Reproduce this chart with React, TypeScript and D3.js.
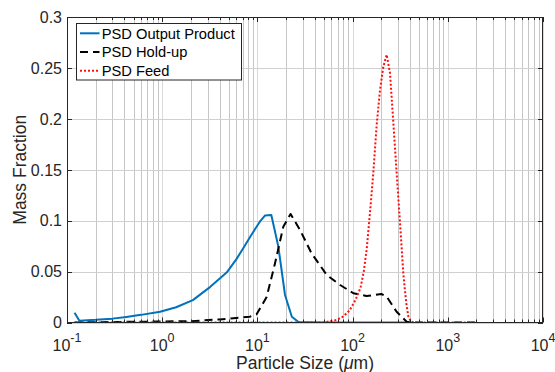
import React from "react";
import * as d3 from "d3";

const outX = [0.12, 0.135, 0.2, 0.3, 0.42, 0.6, 0.95, 1.4, 2.1, 3.2, 4.75, 6, 7.1, 8.5, 10.6, 12, 14, 16.6, 19.5, 23, 27, 50, 100, 200, 420];
const outY = [0.0095, 0.0018, 0.0026, 0.0038, 0.0055, 0.0075, 0.0106, 0.015, 0.022, 0.035, 0.049, 0.062, 0.073, 0.085, 0.099, 0.105, 0.1055, 0.0745, 0.027, 0.0057, 0.0005, 0, 0, 0, 0];

const holdX = [0.12, 0.2, 0.5, 1, 2, 4, 6, 8.3, 9.8, 12.5, 15.3, 18.7, 22.3, 28, 37, 53.5, 74, 102, 140, 200, 228, 290, 370, 400, 1000, 2000];
const holdY = [0, 0.0003, 0.0007, 0.001, 0.0013, 0.003, 0.0045, 0.0057, 0.008, 0.025, 0.058, 0.094, 0.1066, 0.091, 0.068, 0.0467, 0.0368, 0.0287, 0.026, 0.028, 0.0254, 0.0106, 0.0008, 0, 0, 0];

const feedX = [0.12, 1, 10, 50, 68, 80, 93, 107, 121, 131, 141, 152, 165, 179, 194, 210, 228, 247, 268, 290, 315, 341, 365, 385, 410, 440, 1000, 2000];
const feedY = [0, 0, 0, 0, 0.0025, 0.006, 0.012, 0.022, 0.034, 0.05, 0.073, 0.107, 0.147, 0.194, 0.228, 0.251, 0.263, 0.245, 0.196, 0.147, 0.0975, 0.048, 0.02, 0.006, 0.001, 0, 0, 0];

const yTicks = [0, 0.05, 0.1, 0.15, 0.2, 0.25, 0.3];
const xDecades = [-1, 0, 1, 2, 3, 4];
const legendLabels = ["PSD Output Product", "PSD Hold-up", "PSD Feed"];

const W = 555, H = 372;
const L = 67, R = 543, T = 17, B = 322.5;
const FONT = "'Liberation Sans', Arial, Helvetica, sans-serif";
const AX = "#262626";

export default function App() {
  const x = d3.scaleLog().domain([0.1, 1e4]).range([L, R]);
  const y = d3.scaleLinear().domain([0, 0.3]).range([B, T]);
  const line = d3.line<[number, number]>().x(d => x(d[0])).y(d => y(d[1]));

  const minors: number[] = [];
  for (let e = -1; e < 4; e++) for (let k = 2; k <= 9; k++) minors.push(k * Math.pow(10, e));

  const series = [
    { xs: outX, ys: outY, color: "#0072BD", dash: undefined as string | undefined },
    { xs: holdX, ys: holdY, color: "#000000", dash: "8,5" },
    { xs: feedX, ys: feedY, color: "#FF1010", dash: "2,2" },
  ];

  const r = (v: number) => Math.round(v) + 0.5;

  return (
    <svg width={W} height={H} style={{ position: "absolute", left: 0, top: 0, background: "#fff" }} fontFamily={FONT}>
      <rect x={0} y={0} width={W} height={H} fill="#fff" />
      <defs>
        <clipPath id="plot">
          <rect x={L} y={T} width={R - L} height={B - T} />
        </clipPath>
      </defs>
      {/* grid */}
      {minors.map((v, i) => (
        <line key={"mg" + i} x1={r(x(v))} x2={r(x(v))} y1={T} y2={B} stroke="#c6c6c6" strokeWidth={1} />
      ))}
      {xDecades.map(e => (
        <line key={"xg" + e} x1={r(x(Math.pow(10, e)))} x2={r(x(Math.pow(10, e)))} y1={T} y2={B} stroke="#dadada" strokeWidth={1} />
      ))}
      {yTicks.map(v => (
        <line key={"yg" + v} x1={L} x2={R} y1={r(y(v))} y2={r(y(v))} stroke="#d0d0d0" strokeWidth={1} />
      ))}
      {/* series */}
      <g clipPath="url(#plot)">
        {series.map((s, i) => (
          <path key={i} d={line(s.xs.map((v, j) => [v, s.ys[j]] as [number, number])) || ""} fill="none"
            stroke={s.color} strokeWidth={2} strokeDasharray={s.dash} strokeLinejoin="round" />
        ))}
      </g>
      {/* ticks */}
      {yTicks.map(v => (
        <g key={"yt" + v}>
          <line x1={L} x2={L + 5} y1={r(y(v))} y2={r(y(v))} stroke={AX} />
          <line x1={R - 5} x2={R} y1={r(y(v))} y2={r(y(v))} stroke={AX} />
          <text x={62} y={y(v)} dy="0.36em" textAnchor="end" fontSize={16} fill={AX}>{String(+v.toFixed(2))}</text>
        </g>
      ))}
      {minors.map((v, i) => (
        <g key={"mt" + i}>
          <line x1={r(x(v))} x2={r(x(v))} y1={B} y2={B - 3} stroke={AX} />
          <line x1={r(x(v))} x2={r(x(v))} y1={T} y2={T + 3} stroke={AX} />
        </g>
      ))}
      {xDecades.map(e => (
        <g key={"xt" + e}>
          <line x1={r(x(Math.pow(10, e)))} x2={r(x(Math.pow(10, e)))} y1={B} y2={B - 5} stroke={AX} />
          <line x1={r(x(Math.pow(10, e)))} x2={r(x(Math.pow(10, e)))} y1={T} y2={T + 5} stroke={AX} />
          <text x={x(Math.pow(10, e))} y={351} textAnchor="middle" fontSize={16} fill={AX}>
            <tspan>10</tspan>
            <tspan dy={-9.5} fontSize={12.5}>{String(e)}</tspan>
          </text>
        </g>
      ))}
      {/* box */}
      <rect x={L + 0.5} y={T + 0.5} width={R - L - 1} height={B - T - 0.5} fill="none" stroke={AX} strokeWidth={1} />
      {/* axis labels */}
      <text x={(L + R) / 2} y={369} textAnchor="middle" fontSize={17.5} fill={AX}>
        <tspan>Particle Size (</tspan><tspan fontStyle="italic">μ</tspan><tspan>m)</tspan>
      </text>
      <text transform={`translate(25.5,${(T + B) / 2}) rotate(-90)`} textAnchor="middle" fontSize={17.5} fill={AX}>Mass Fraction</text>
      {/* legend */}
      <rect x={76.5} y={23.5} width={165} height={56.5} fill="#fff" stroke={AX} strokeWidth={1} />
      {legendLabels.map((lab, i) => {
        const ly = 33.3 + i * 18.7;
        const s = series[i];
        return (
          <g key={lab}>
            <line x1={80} x2={99.5} y1={ly} y2={ly} stroke={s.color} strokeWidth={2} strokeDasharray={s.dash} />
            <text x={101.7} y={ly} dy="0.36em" fontSize={14.7} fill="#000">{lab}</text>
          </g>
        );
      })}
    </svg>
  );
}
